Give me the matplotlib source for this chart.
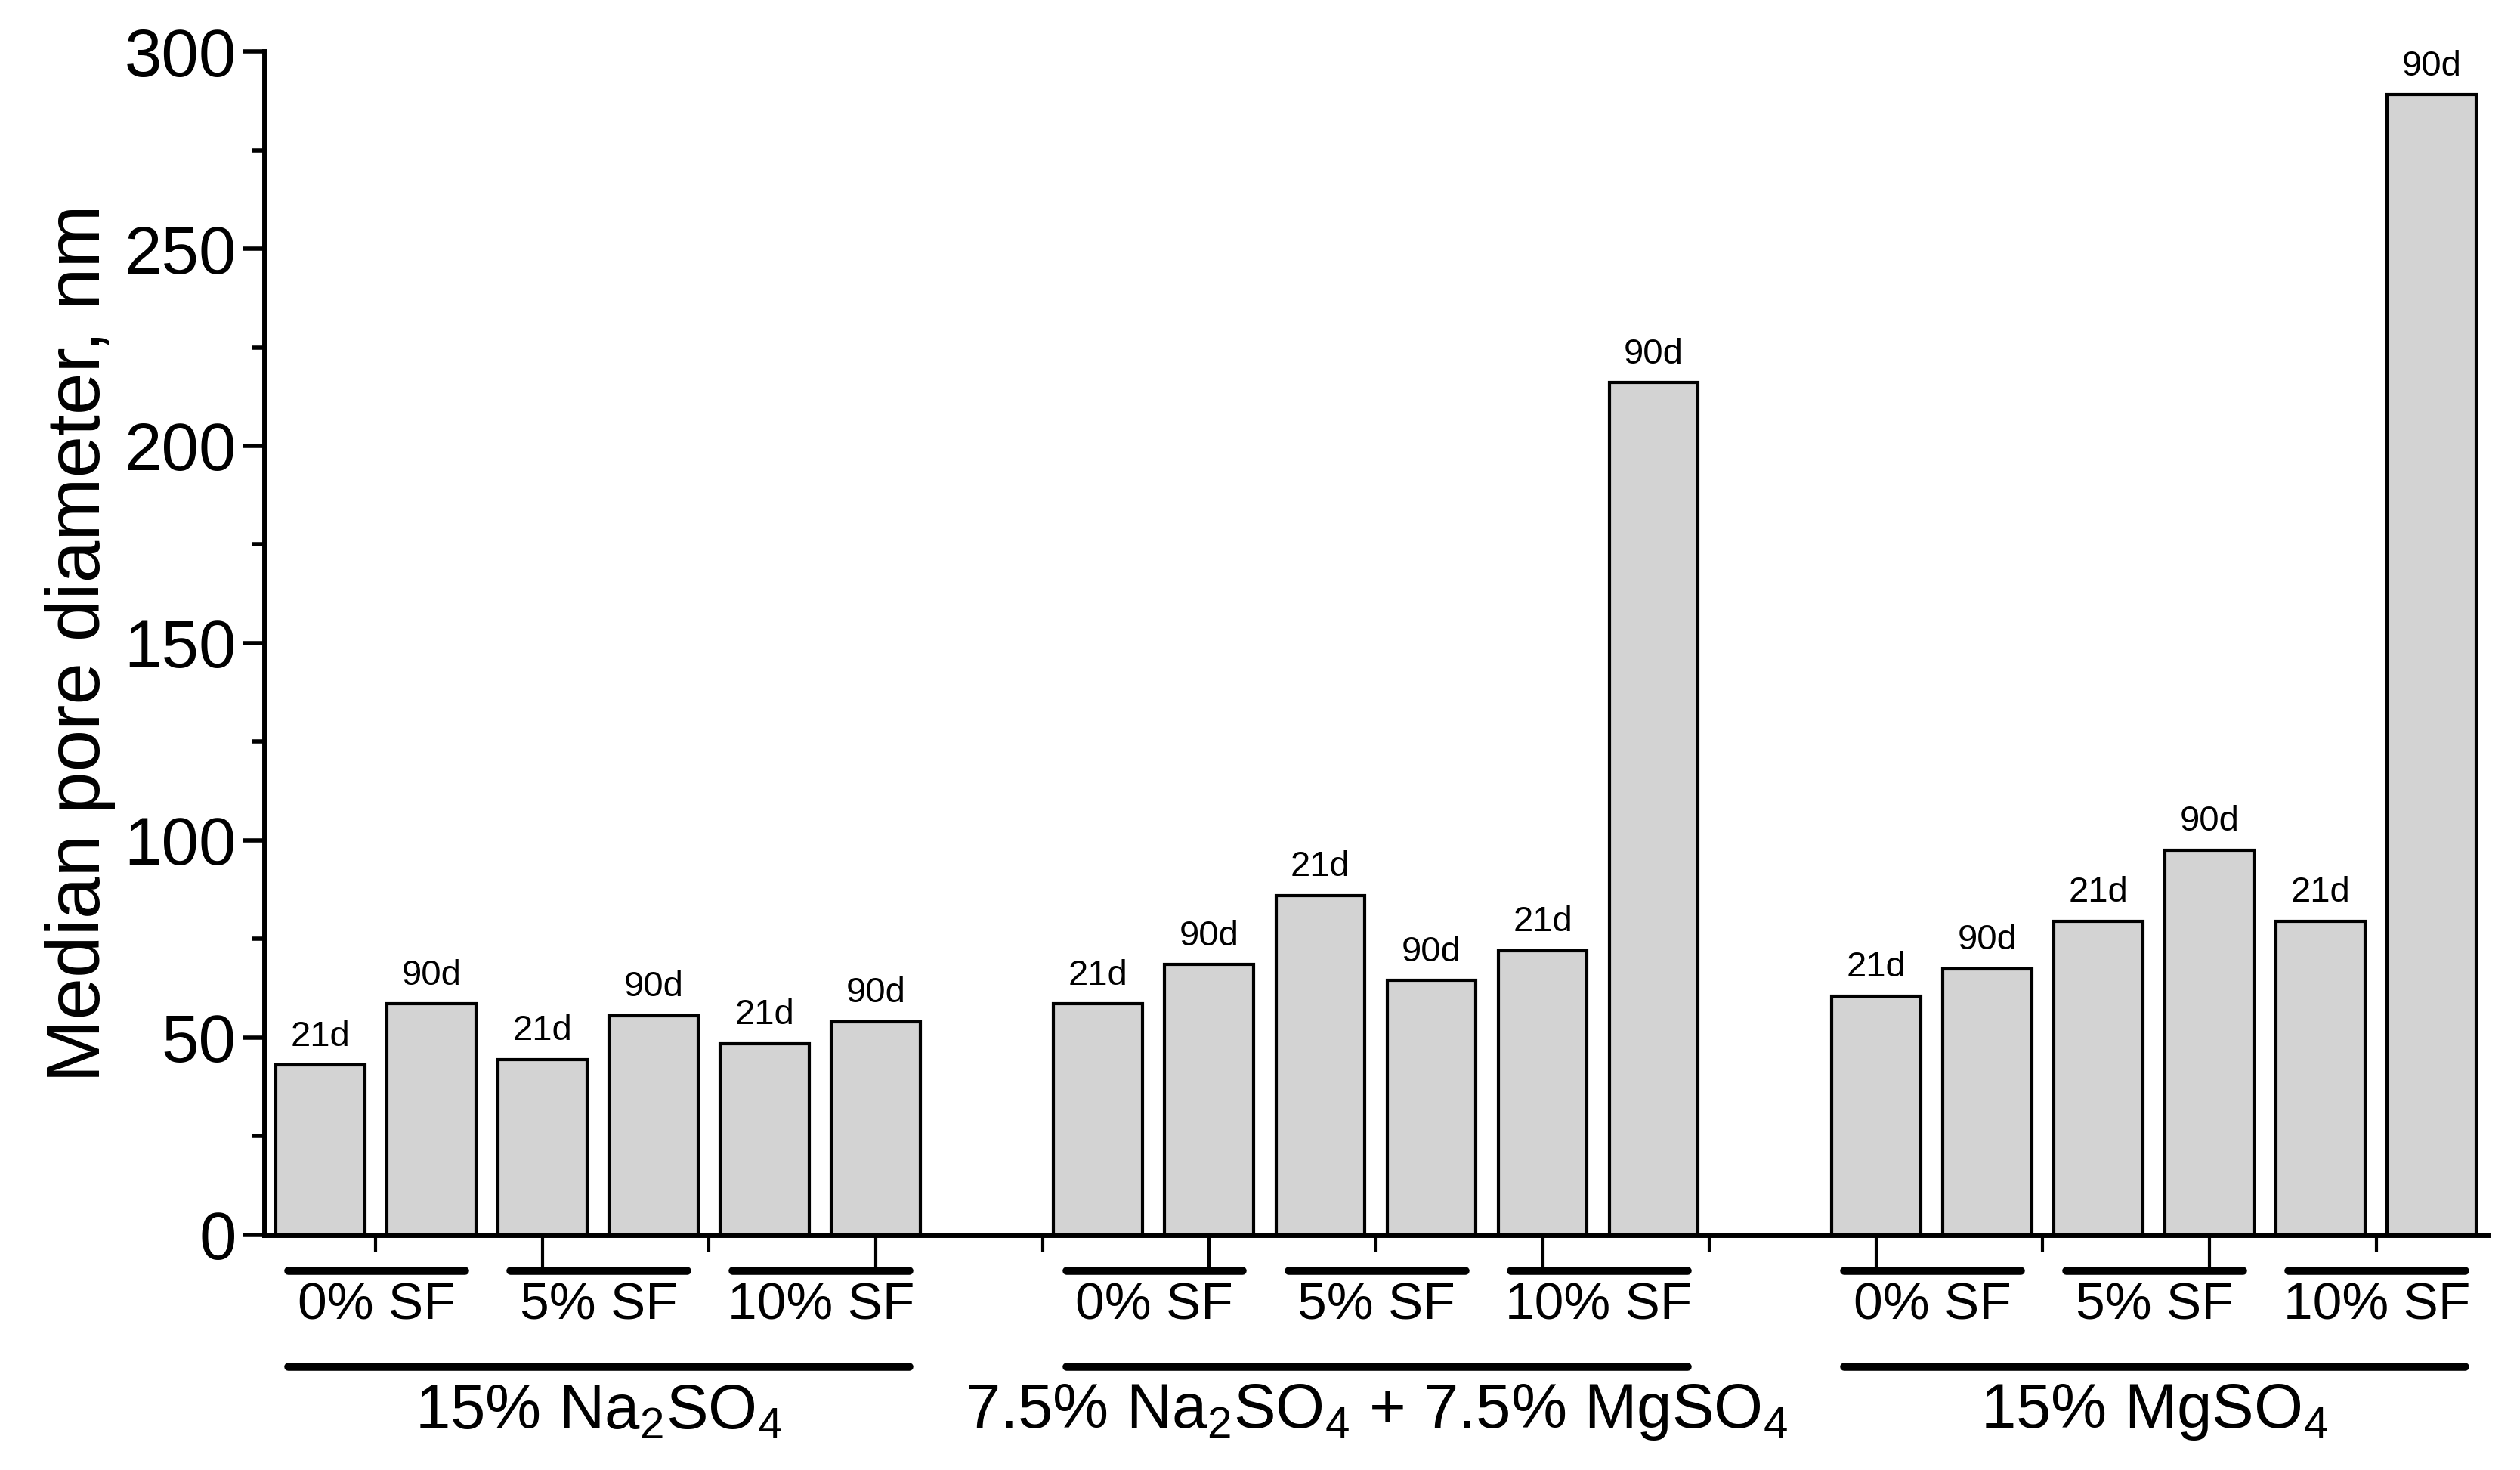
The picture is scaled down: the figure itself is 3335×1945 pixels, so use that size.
import matplotlib
matplotlib.use("Agg")
import matplotlib.pyplot as plt
from matplotlib.font_manager import fontManager
from matplotlib.ticker import FixedLocator
import matplotlib.transforms as mtransforms

names = {f.name for f in fontManager.ttflist}
fam = 'Liberation Sans Narrow' if 'Liberation Sans Narrow' in names else 'Liberation Sans'
plt.rcParams['font.family'] = [fam, 'DejaVu Sans']
plt.rcParams['mathtext.fontset'] = 'custom'
plt.rcParams['mathtext.rm'] = fam
plt.rcParams['mathtext.default'] = 'regular'

groups = [r'15% Na$_2$SO$_4$', r'7.5% Na$_2$SO$_4$ + 7.5% MgSO$_4$', r'15% MgSO$_4$']
sf_labels = ['0% SF', '5% SF', '10% SF']
ages = ['21d', '90d']
values = [
    [43, 58.5, 44.5, 55.5, 48.5, 54],
    [58.5, 68.5, 86, 64.5, 72, 216],
    [60.5, 67.5, 79.5, 97.5, 79.5, 289],
]

fig = plt.figure(figsize=(16.675, 9.725), dpi=200)
ax = fig.add_axes([0.105, 0.160, 0.882, 0.805])

for g, vals in enumerate(values):
    base = g * 7
    for i, v in enumerate(vals):
        x = base + i
        ax.bar(x, v, width=0.8, color='#d3d3d3', edgecolor='black', linewidth=1.5)
        ax.text(x, v + 3, ages[i % 2], ha='center', va='bottom', fontsize=17)

ax.set_xlim(-0.5, 19.5)
ax.set_ylim(0, 300)
ax.set_yticks([0, 50, 100, 150, 200, 250, 300])
ax.set_ylabel('Median pore diameter, nm', fontsize=36)
ax.tick_params(axis='y', labelsize=32, width=2, length=10)
ax.yaxis.set_minor_locator(FixedLocator([25, 75, 125, 175, 225, 275]))
ax.tick_params(axis='y', which='minor', width=2, length=6)
ax.xaxis.set_major_locator(FixedLocator([2, 5, 8, 11, 14, 17]))
ax.xaxis.set_minor_locator(FixedLocator([0.5, 3.5, 6.5, 9.5, 12.5, 15.5, 18.5]))
ax.set_xticklabels([])
ax.tick_params(axis='x', which='major', width=1.5, length=18, direction='out')
ax.tick_params(axis='x', which='minor', width=1.5, length=8, direction='out')
for s in ['top', 'right']:
    ax.spines[s].set_visible(False)
for s in ['left', 'bottom']:
    ax.spines[s].set_linewidth(2.5)

tr = mtransforms.blended_transform_factory(ax.transData, ax.transAxes)
for g in range(3):
    base = g * 7
    for p in range(3):
        x0 = base + 2 * p - 0.29
        x1 = base + 2 * p + 1.3
        ax.plot([x0, x1], [-0.030, -0.030], transform=tr, color='black', lw=3.8,
                solid_capstyle='round', clip_on=False)
        ax.text((x0 + x1) / 2, -0.060, sf_labels[p], transform=tr, ha='center', va='center', fontsize=25)
    x0 = base - 0.29
    x1 = base + 5.3
    ax.plot([x0, x1], [-0.111, -0.111], transform=tr, color='black', lw=3.8,
            solid_capstyle='round', clip_on=False)
    ax.text((x0 + x1) / 2, -0.150, groups[g], transform=tr, ha='center', va='center', fontsize=30)

fig.savefig('out.png', dpi=200)
